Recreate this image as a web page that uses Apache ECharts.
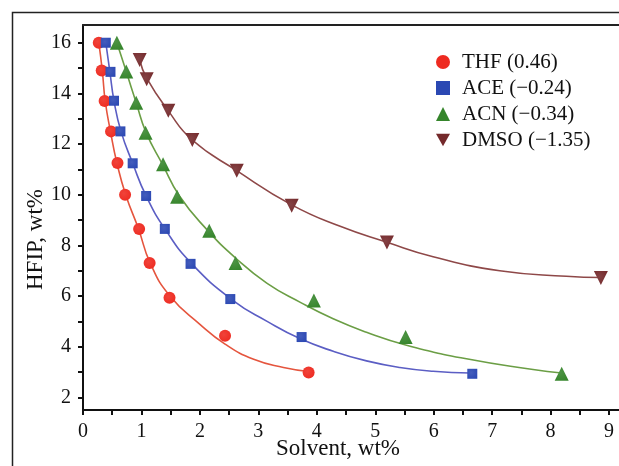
<!DOCTYPE html>
<html>
<head>
<meta charset="utf-8">
<script src="https://cdn.jsdelivr.net/npm/echarts@6/dist/echarts.min.js"></script>
<style>
  html, body { margin: 0; padding: 0; background: #fff; }
  #chart { width: 619px; height: 466px; }
</style>
</head>
<body>
<div id="chart"></div>
<script>
// Series names as shown in the legend
const seriesNames = ['THF (0.46)', 'ACE (\u22120.24)', 'ACN (\u22120.34)', 'DMSO (\u22121.35)'];

// Measured points: [solvent wt%, HFIP wt%]
const thfPoints = [[0.27, 16.0], [0.32, 14.9], [0.37, 13.7], [0.48, 12.5], [0.59, 11.25], [0.72, 10.0], [0.96, 8.65], [1.14, 7.3], [1.48, 5.93], [2.43, 4.43], [3.86, 2.98]];
const acePoints = [[0.39, 16.0], [0.47, 14.85], [0.53, 13.71], [0.64, 12.5], [0.85, 11.24], [1.08, 9.95], [1.40, 8.65], [1.84, 7.27], [2.52, 5.88], [3.74, 4.38], [6.66, 2.93]];
const acnPoints = [[0.58, 16.0], [0.74, 14.86], [0.91, 13.63], [1.07, 12.45], [1.37, 11.2], [1.61, 9.92], [2.16, 8.58], [2.61, 7.3], [3.95, 5.82], [5.52, 4.38], [8.19, 2.93]];
const dmsoPoints = [[0.97, 15.32], [1.09, 14.56], [1.46, 13.31], [1.87, 12.16], [2.63, 10.95], [3.57, 9.56], [5.20, 8.11], [8.86, 6.71]];

// Fitted curves through each data set
const thfCurve = [[0.27, 16.0], [0.33, 14.9], [0.38, 13.7], [0.47, 12.5], [0.58, 11.25], [0.73, 10.0], [0.95, 8.65], [1.15, 7.3], [1.48, 6.02], [2.0, 4.88], [2.43, 4.1], [2.92, 3.5], [3.43, 3.18], [3.86, 3.02]];
const aceCurve = [[0.39, 16.0], [0.46, 14.85], [0.53, 13.71], [0.65, 12.5], [0.85, 11.24], [1.08, 9.95], [1.41, 8.62], [1.85, 7.3], [2.57, 5.82], [3.15, 5.0], [3.71, 4.32], [4.28, 3.82], [4.85, 3.44], [5.42, 3.18], [5.99, 3.03], [6.62, 2.96]];
const acnCurve = [[0.58, 16.0], [0.74, 14.86], [0.91, 13.63], [1.08, 12.45], [1.36, 11.2], [1.65, 9.95], [2.12, 8.62], [2.61, 7.5], [3.15, 6.5], [3.71, 5.76], [4.28, 5.1], [4.85, 4.57], [5.52, 4.07], [6.56, 3.52], [7.70, 3.1], [8.19, 2.96]];
const dmsoCurve = [[0.97, 15.32], [1.09, 14.6], [1.46, 13.31], [1.87, 12.16], [2.63, 10.95], [3.57, 9.6], [4.4, 8.75], [5.2, 8.12], [5.99, 7.55], [7.13, 7.0], [8.27, 6.78], [8.86, 6.73]];

// Axis tick values
const xLabels = [0, 1, 2, 3, 4, 5, 6, 7, 8, 9];
const xTicks = [0, 0.5, 1, 1.5, 2, 2.5, 3, 3.5, 4, 4.5, 5, 5.5, 6, 6.5, 7, 7.5, 8, 8.5, 9];
const yLabels = [2, 4, 6, 8, 10, 12, 14, 16];
const yTicks = [2, 3, 4, 5, 6, 7, 8, 9, 10, 11, 12, 13, 14, 15, 16];

const serif = 'Liberation Serif';
const markerColors = ['#ee2a20', '#2b48b3', '#35852b', '#74292b'];
const lineColors = ['#e5553e', '#5b5ec4', '#6b9e45', '#8e4848'];
const symbols = ['circle', 'rect', 'triangle', 'path://M0,0L10,0L5,9Z'];
const symbolSizes = [12, 10, 14, 14];
const pointSets = [thfPoints, acePoints, acnPoints, dmsoPoints];
const curveSets = [thfCurve, aceCurve, acnCurve, dmsoCurve];

function markerFill(c) {
  return {
    type: 'radial', x: 0.4, y: 0.4, r: 0.7,
    colorStops: [{ offset: 0, color: echarts.color.lift(c, 0.12) }, { offset: 1, color: c }]
  };
}

const series = [];
curveSets.forEach((curve, i) => {
  series.push({
    type: 'line', data: curve, smooth: 0.5, showSymbol: false, symbol: 'none',
    lineStyle: { color: lineColors[i], width: 1.6 }, silent: true, z: 2
  });
});
pointSets.forEach((pts, i) => {
  series.push({
    name: seriesNames[i], type: 'scatter', data: pts,
    symbol: symbols[i], symbolSize: symbolSizes[i],
    itemStyle: { color: markerFill(markerColors[i]), opacity: 1 }, z: 3
  });
});

const chart = echarts.init(document.getElementById('chart'), null, { renderer: 'canvas' });
chart.setOption({
  animation: false,
  backgroundColor: '#fff',
  grid: { left: 83, right: 0, top: 25, bottom: 56 },
  legend: {
    orient: 'vertical', left: 431, top: 46, itemGap: 4,
    itemWidth: 14, itemHeight: 14,
    data: seriesNames.map((n, i) => ({ name: n, icon: symbols[i], itemStyle: { color: markerColors[i], opacity: 1 } })),
    textStyle: { fontFamily: serif, fontSize: 21, color: '#111', lineHeight: 22, padding: [0, 0, 0, 7] }
  },
  xAxis: [{
    type: 'value', min: 0, max: 9.17,
    axisLine: { show: true, lineStyle: { color: '#111', width: 2 } },
    axisTick: { show: true, inside: false, length: 5, lineStyle: { color: '#111', width: 2 }, customValues: xTicks },
    axisLabel: { fontFamily: serif, fontSize: 20, color: '#111', margin: 12, customValues: xLabels },
    splitLine: { show: false }
  }, {
    type: 'value', min: 0, max: 9.17, position: 'top',
    axisLine: { show: true, lineStyle: { color: '#222', width: 2 } },
    axisTick: { show: false }, axisLabel: { show: false }, splitLine: { show: false }
  }],
  yAxis: {
    type: 'value', min: 1.5, max: 16.7,
    axisLine: { show: true, lineStyle: { color: '#111', width: 2 } },
    axisTick: { show: true, inside: false, length: 5, lineStyle: { color: '#111', width: 2 }, customValues: yTicks },
    axisLabel: { fontFamily: serif, fontSize: 20, color: '#111', margin: 12, customValues: yLabels },
    splitLine: { show: false }
  },
  graphic: [
    { type: 'polyline', shape: { points: [[12.5, 466], [12.5, 12.5], [619, 12.5]] }, style: { stroke: '#222', lineWidth: 1.5, fill: null } },
    { type: 'text', left: 276, top: 437, style: { text: 'Solvent, wt%', font: '23px "Liberation Serif"', fill: '#111' } },
    { type: 'text', x: 24, y: 290, rotation: Math.PI / 2, style: { text: 'HFIP, wt%', font: '23px "Liberation Serif"', fill: '#111' } }
  ],
  series: series
});
</script>
</body>
</html>
